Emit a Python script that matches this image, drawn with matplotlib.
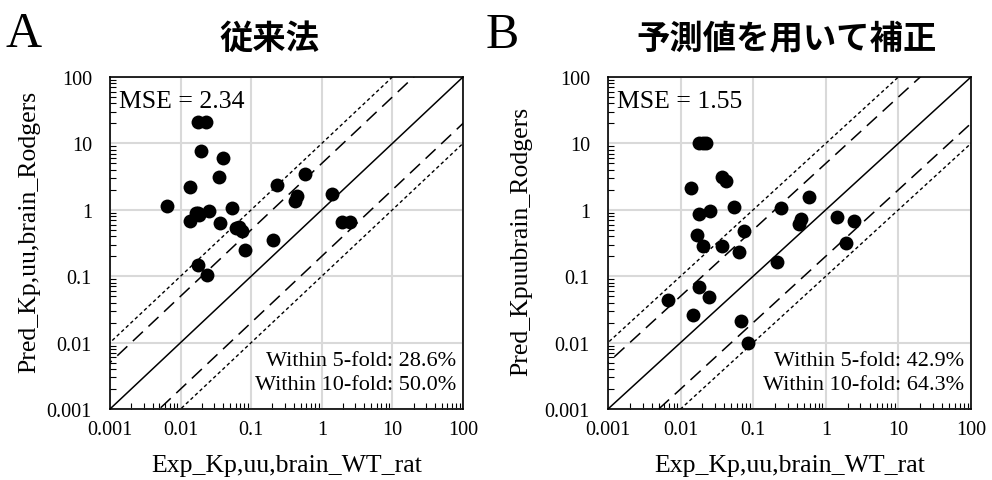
import matplotlib.pyplot as plt
import numpy as np

plt.rcParams['font.family'] = ['Liberation Serif', 'DejaVu Serif']

# panel A (従来法)
exp_a = [0.00647, 0.0178, 0.0226, 0.0196, 0.0405, 0.0348, 0.0137, 0.233, 0.58,
         0.443, 0.424, 1.385, 1.94, 2.52, 0.0137, 0.0167, 0.0185, 0.0249, 0.0532,
         0.0364, 0.0614, 0.0746, 0.068, 0.0822, 0.205, 0.0176, 0.0238, 0.0175]
pred_a = [1.14, 21.2, 21.2, 7.74, 6.08, 3.14, 2.17, 2.35, 3.45,
          1.63, 1.34, 1.70, 0.652, 0.652, 0.683, 0.91, 0.84, 0.955, 1.08,
          0.622, 0.524, 0.482, 0.55, 0.252, 0.349, 0.15, 0.105, 0.88]

# panel B (予測値を用いて補正)
exp_b = [0.0181, 0.0224, 0.037, 0.042, 0.0141, 0.586, 0.241, 0.055, 0.0256,
         0.0181, 0.452, 0.428, 1.41, 2.48, 0.0747, 0.0167, 0.0202, 0.0374,
         0.0638, 1.87, 0.212, 0.0178, 0.0248, 0.00672, 0.015, 0.0686, 0.0855, 0.0205]
pred_b = [10.0, 10.0, 3.13, 2.72, 2.15, 1.57, 1.08, 1.12, 0.955,
          0.85, 0.73, 0.607, 0.766, 0.673, 0.475, 0.418, 0.288, 0.282,
          0.234, 0.313, 0.165, 0.0697, 0.0487, 0.0432, 0.0262, 0.0213, 0.00988, 10.0]

mse = ['2.34', '1.55']
fold5 = ['28.6%', '42.9%']
fold10 = ['50.0%', '64.3%']
titles = ['従来法', '予測値を用いて補正']
letters = ['A', 'B']
ylabels = ['Pred_Kp,uu,brain_Rodgers', 'Pred_Kpuubrain_Rodgers']
xlabel = 'Exp_Kp,uu,brain_WT_rat'
ticks = [0.001, 0.01, 0.1, 1, 10, 100]
tick_labels = ['0.001', '0.01', '0.1', '1', '10', '100']

fig = plt.figure(figsize=(9.92, 4.81), dpi=100)
ax_a = fig.add_axes([110/992, 1-410/481, 353/992, 332/481])
ax_b = fig.add_axes([608/992, 1-410/481, 363/992, 332/481])

ylabel_pos = [(-0.198, 0.536), (-0.209, 0.509)]

line = np.array([1e-4, 1e3])
for i, (ax, xs, ys) in enumerate([(ax_a, exp_a, pred_a), (ax_b, exp_b, pred_b)]):
    ax.set_xscale('log')
    ax.set_yscale('log')
    ax.set_xlim(0.001, 100)
    ax.set_ylim(0.001, 100)
    ax.grid(True, which='major', color='#d9d9d9', lw=1.5, zorder=0)
    ax.set_axisbelow(True)

    ax.plot(line, line, color='black', lw=1.1, zorder=2)
    ax.plot(line, line*5, color='black', lw=1.1, ls=(0, (9, 5)), zorder=2)
    ax.plot(line, line/5, color='black', lw=1.1, ls=(0, (9, 5)), zorder=2)
    ax.plot(line, line*10, color='black', lw=1.0, ls=(0, (2.5, 2)), zorder=2)
    ax.plot(line, line/10, color='black', lw=1.0, ls=(0, (2.5, 2)), zorder=2)

    ax.scatter(xs, ys, s=100, color='black', zorder=3, linewidths=0)

    ax.set_xticks(ticks)
    ax.set_xticklabels(tick_labels)
    ax.set_yticks(ticks)
    ax.set_yticklabels(tick_labels)
    ax.tick_params(which='major', length=0, labelsize=14.5)
    ax.tick_params(axis='x', which='major', pad=8)
    ax.tick_params(axis='y', which='major', pad=13)
    ax.tick_params(which='minor', direction='in', length=4, width=0.8)
    for s in ax.spines.values():
        s.set_linewidth(1.2)
        s.set_zorder(4)

    ax.set_xlabel(xlabel, fontsize=18.5, labelpad=11)
    ax.set_ylabel(ylabels[i], fontsize=18.5)
    ax.yaxis.set_label_coords(*ylabel_pos[i])

    ax.text(0.025, 0.96, 'MSE = ' + mse[i], transform=ax.transAxes,
            fontsize=18.5, ha='left', va='top', zorder=5)
    ax.text(0.98, 0.045, 'Within 5-fold: ' + fold5[i] + '\nWithin 10-fold: ' + fold10[i],
            transform=ax.transAxes, fontsize=16, ha='right', va='bottom',
            linespacing=1.35, zorder=5)

fig.text(270/992, 1-39/481, titles[0], fontsize=24, fontweight='bold',
         family=['Noto Sans CJK JP', 'DejaVu Sans'], ha='center', va='center')
fig.text(787/992, 1-39/481, titles[1], fontsize=24, fontweight='bold',
         family=['Noto Sans CJK JP', 'DejaVu Sans'], ha='center', va='center')
fig.text(5/992, 1-35/481, letters[0], fontsize=36, ha='left', va='center')
fig.text(486/992, 1-36/481, letters[1], fontsize=36, ha='left', va='center')

plt.savefig('out.png', dpi=100)
